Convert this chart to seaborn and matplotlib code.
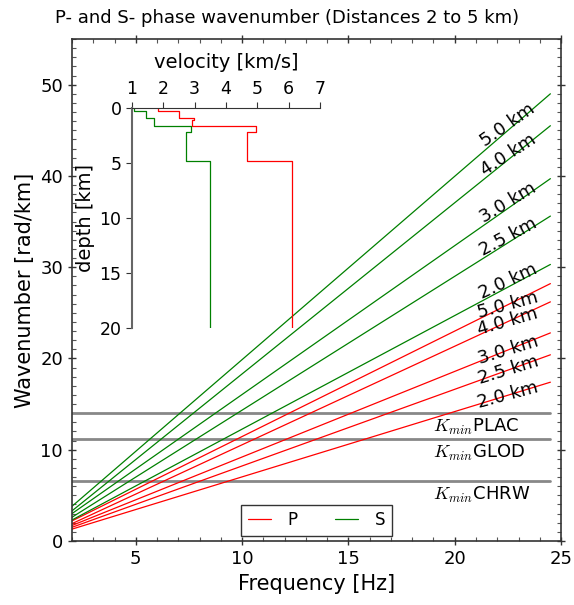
import numpy as np
import pandas as pd
import matplotlib
matplotlib.use("Agg")
import matplotlib.pyplot as plt
import seaborn as sns

# wavenumber lines: values read at the two ends of the frequency range
freq_ends = [2.0, 24.5]
distances = ["2.0 km", "2.5 km", "3.0 km", "4.0 km", "5.0 km"]
k_p_start = [1.3, 1.5, 1.7, 1.9, 2.2]
k_p_end = [17.4, 20.4, 22.8, 26.2, 28.2]
k_s_start = [2.3, 2.6, 3.0, 3.3, 3.8]
k_s_end = [30.3, 35.6, 39.7, 45.5, 49.0]

# label rotations
rot_p = [15, 17, 17, 16, 15]
rot_s = [25, 28, 31, 33, 35]

# minimum resolvable wavenumber per array
kmin_names = ["PLAC", "GLOD", "CHRW"]
kmin_vals = [14.0, 11.2, 6.6]

# velocity model (layer tops, layer bottoms, velocities)
p_top = [0.0, 0.3, 0.9, 1.1, 1.67, 2.2, 4.85]
p_bot = [0.3, 0.9, 1.1, 1.67, 2.2, 4.85, 20.0]
vp = [1.83, 2.49, 2.98, 2.92, 4.95, 4.66, 6.1]
s_top = [0.0, 0.25, 0.9, 1.67, 2.2, 4.85]
s_bot = [0.25, 0.9, 1.67, 2.2, 4.85, 20.0]
vs = [1.06, 1.44, 1.69, 2.87, 2.71, 3.5]

rows = []
for ph, ks, ke in [("P", k_p_start, k_p_end), ("S", k_s_start, k_s_end)]:
    for d, a, b in zip(distances, ks, ke):
        rows.append((ph, d, freq_ends[0], a))
        rows.append((ph, d, freq_ends[1], b))
df = pd.DataFrame(rows, columns=["phase", "dist", "freq", "k"])

sns.set_style("white")
plt.rcParams["font.family"] = ["DejaVu Sans"]
plt.rcParams["mathtext.fontset"] = "cm"
plt.rcParams["text.color"] = "black"
plt.rcParams["axes.labelcolor"] = "black"
plt.rcParams["xtick.color"] = "black"
plt.rcParams["ytick.color"] = "black"

fig = plt.figure(figsize=(5.74, 6.05), dpi=100)
ax = fig.add_axes([0.1254, 0.1058, 0.852, 0.8297])

sns.lineplot(data=df, x="freq", y="k", hue="phase", units="dist", estimator=None,
             palette={"P": "#ff0000", "S": "#008000"}, lw=0.9, ax=ax)

for level, name in zip(kmin_vals, kmin_names):
    ax.plot(freq_ends, [level, level], color="#888888", lw=2, zorder=1)
    ax.text(19.0, level - 0.45, r"$K_{min}$" + name, fontsize=13, va="top", ha="left")

fl = 22.5
for ks, ke, rots, col in [(k_p_start, k_p_end, rot_p, "P"), (k_s_start, k_s_end, rot_s, "S")]:
    for d, a, b, r in zip(distances, ks, ke, rots):
        y = np.interp(fl, freq_ends, [a, b])
        if col == "S":
            y += 0.6
        ax.text(fl, y, d, fontsize=13, rotation=r, rotation_mode="anchor",
                ha="center", va="center")

ax.set_xlim(2, 25)
ax.set_ylim(0, 55)
ax.set_xticks([5, 10, 15, 20, 25])
ax.set_yticks([0, 10, 20, 30, 40, 50])
ax.xaxis.set_minor_locator(matplotlib.ticker.MultipleLocator(1))
ax.yaxis.set_minor_locator(matplotlib.ticker.MultipleLocator(1))
ax.tick_params(which="major", direction="inout", length=6, width=1, color="#333333",
               labelsize=13, top=True, right=True, bottom=True, left=True)
ax.tick_params(which="minor", direction="in", length=3, width=0.8, color="#555555",
               top=True, right=True, bottom=True, left=True)
for s in ax.spines.values():
    s.set_color("#333333")
    s.set_linewidth(1.2)
ax.set_xlabel("Frequency [Hz]", fontsize=15)
ax.set_ylabel("Wavenumber [rad/km]", fontsize=15)

h, l = ax.get_legend_handles_labels()
ax.legend(h, l, loc="lower center", ncol=2, fontsize=12, fancybox=False,
          edgecolor="#333333", handlelength=1.4, handletextpad=1.0,
          columnspacing=2.2, borderaxespad=0.3, framealpha=1)

fig.suptitle("P- and S- phase wavenumber (Distances 2 to 5 km)", fontsize=13, y=0.985)

# inset with the velocity model
ins = fig.add_axes([0.230, 0.4579, 0.3275, 0.3636])
ins.set_facecolor("none")
sns.lineplot(x=np.ravel(np.column_stack([vp, vp])), y=np.ravel(np.column_stack([p_top, p_bot])),
             sort=False, estimator=None, color="#ff0000", lw=0.9, ax=ins)
sns.lineplot(x=np.ravel(np.column_stack([vs, vs])), y=np.ravel(np.column_stack([s_top, s_bot])),
             sort=False, estimator=None, color="#008000", lw=0.9, ax=ins)
ins.set_xlim(1, 7)
ins.set_ylim(20, 0)
ins.set_xticks(range(1, 8))
ins.set_yticks([0, 5, 10, 15, 20])
ins.xaxis.tick_top()
ins.xaxis.set_label_position("top")
ins.spines["right"].set_visible(False)
ins.spines["bottom"].set_visible(False)
ins.spines["left"].set_color("#666666")
ins.spines["left"].set_linewidth(1.5)
ins.spines["top"].set_color("#333333")
ins.tick_params(direction="out", length=4, color="#333333", labelsize=12.5,
                top=True, left=True, bottom=False, right=False)
ins.set_xlabel("velocity [km/s]", fontsize=14, labelpad=8)
ins.set_ylabel("depth [km]", fontsize=14, labelpad=3)

fig.savefig("out.png", dpi=100)
